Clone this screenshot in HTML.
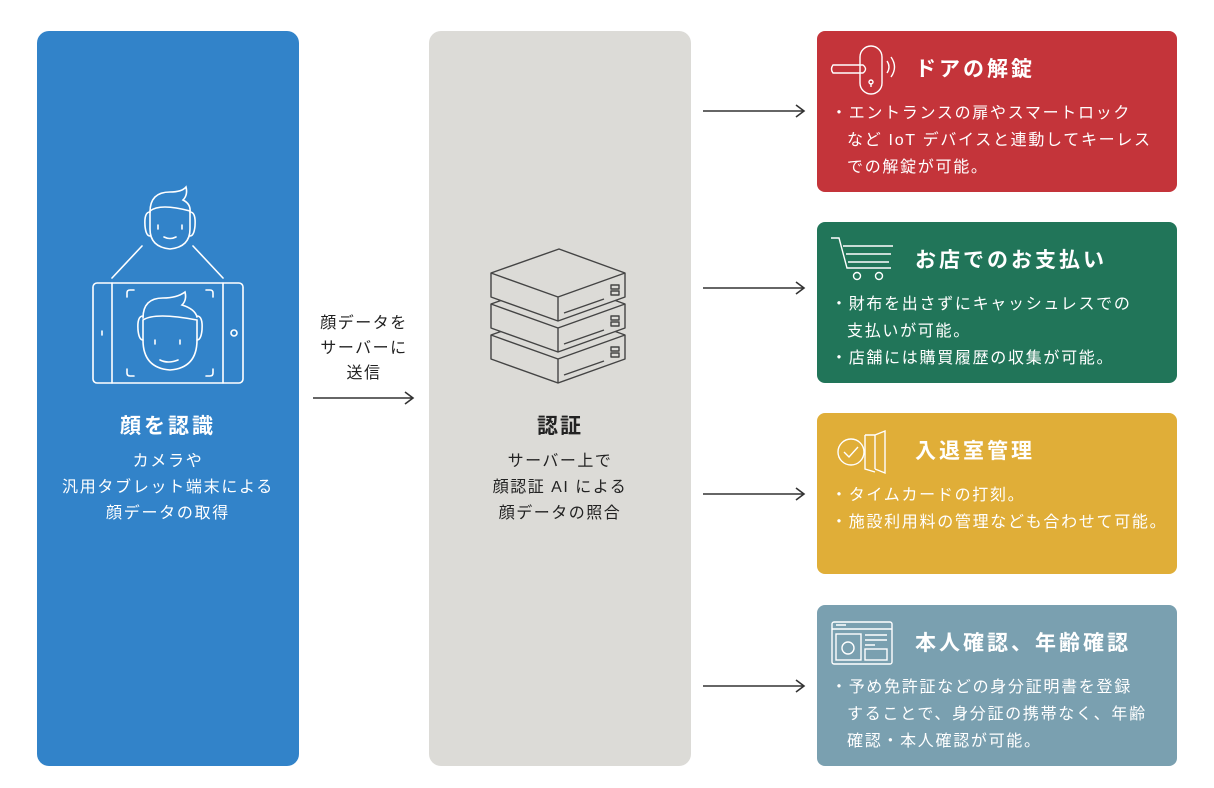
<!DOCTYPE html>
<html><head><meta charset="utf-8"><style>
body{margin:0;width:1214px;height:788px;background:#fff;position:relative;font-family:"Liberation Sans","Noto Sans CJK JP",sans-serif;overflow:hidden}
.p{position:absolute;border-radius:12px}
.t{position:absolute;text-align:center;color:#fff;white-space:nowrap}
.card{position:absolute;left:817px;width:360px;height:161px;border-radius:8px;color:#fff}
.card h3{position:absolute;left:98px;top:22px;margin:0;font-size:21px;font-weight:bold;letter-spacing:3px;white-space:nowrap}
.card .b{position:absolute;left:14px;top:69px;font-size:16px;line-height:27px;letter-spacing:1.7px;white-space:nowrap}
.card .b div{padding-left:16px;text-indent:-16px}
svg.ic{position:absolute;left:12px;top:10px}
</style></head><body>
<div class="p" style="left:37px;top:31px;width:262px;height:735px;background:#3283c9"></div>
<div class="p" style="left:429px;top:31px;width:262px;height:735px;background:#dcdbd7"></div>

<svg style="position:absolute;left:0;top:0" width="1214" height="788">
<g fill="none" stroke="#fff" stroke-width="1.6" stroke-linecap="round">
<path d="M150 212 q-6 0 -5 14 q1 10 5 10"/><path d="M190 212 q6 0 5 14 q-1 10 -5 10"/>
<path d="M150 212 q0 -20 20 -20 q12 0 16 -5 q2 8 -3 13 q8 4 7 12"/>
<path d="M150 211 q10 -8 40 0 v18 q0 18 -20 20 q-20 -2 -20 -20z"/>
<path d="M158 225v4M182 225v4M164 237q6 3 12 0"/>
<path d="M142 246L112 278M193 246L223 278"/>
<rect x="93" y="283" width="150" height="100" rx="4"/><path d="M112 283v100M223 283v100M102 331v4"/><circle cx="234" cy="333" r="3"/>
<path d="M127 297v-4q0-3 3-3h4M206 290h4q3 0 3 3v4M127 369v4q0 3 3 3h4M206 376h4q3 0 3-3v-4"/>
<path d="M143 316 q-6 0 -5 14 q1 10 5 10"/><path d="M197 316 q6 0 5 14 q-1 10 -5 10"/>
<path d="M143 318 q0 -20 20 -20 q14 0 22 -6 q2 8 -3 13 q13 4 15 12"/>
<path d="M143 320 q12 -8 54 0 v20 q0 28 -27 30 q-27 -2 -27 -30z"/>
<path d="M155 340v4M180 340v4M160 360q8 4 18 0"/>
</g>
<g fill="#dcdbd7" stroke="#444" stroke-width="1.4" stroke-linejoin="round">
<g id="s3" transform="translate(0,62)"><path d="M491 273 L559 249 L625 273 V297 L558 321 L491 297Z"/><path d="M491 273 L558 297 L625 273M558 297V321M564 313L604 299"/><rect x="611" y="285" width="8" height="4"/><rect x="611" y="291" width="8" height="4"/></g>
<g transform="translate(0,31)"><path d="M491 273 L559 249 L625 273 V297 L558 321 L491 297Z"/><path d="M491 273 L558 297 L625 273M558 297V321M564 313L604 299"/><rect x="611" y="285" width="8" height="4"/><rect x="611" y="291" width="8" height="4"/></g>
<g><path d="M491 273 L559 249 L625 273 V297 L558 321 L491 297Z"/><path d="M491 273 L558 297 L625 273M558 297V321M564 313L604 299"/><rect x="611" y="285" width="8" height="4"/><rect x="611" y="291" width="8" height="4"/></g>
</g>
<g stroke="#333" stroke-width="1.6" fill="none">
<path d="M313 398h100M405 392l8 6l-8 6"/>
<path d="M703 111h101M796 105l8 6l-8 6"/>
<path d="M703 288h101M796 282l8 6l-8 6"/>
<path d="M703 494h101M796 488l8 6l-8 6"/>
<path d="M703 686h101M796 680l8 6l-8 6"/>
</g>
</svg>

<div class="t" style="left:37px;width:262px;top:410px;font-size:21px;font-weight:bold;letter-spacing:3px">顔を認識</div>
<div class="t" style="left:37px;width:262px;top:449px;font-size:16px;line-height:26px;letter-spacing:1.7px">カメラや<br>汎用タブレット端末による<br>顔データの取得</div>
<div class="t" style="left:300px;width:128px;top:311px;font-size:16px;line-height:25px;letter-spacing:1.5px;color:#222">顔データを<br>サーバーに<br>送信</div>
<div class="t" style="left:429px;width:262px;top:410px;font-size:21px;font-weight:bold;letter-spacing:2px;color:#222">認証</div>
<div class="t" style="left:429px;width:262px;top:449px;font-size:16px;line-height:26px;letter-spacing:1.5px;color:#222">サーバー上で<br>顔認証 AI による<br>顔データの照合</div>

<div class="card" style="top:31px;background:#c4343a">
<svg class="ic" width="70" height="60" fill="none" stroke="#fff" stroke-width="1.4"><rect x="31" y="5" width="22" height="48" rx="11"/><path d="M4 24h30q5 4 0 8H4q-3-4 0-8z"/><path d="M58 20q4 6 0 12M62 16q7 10 0 20"/><circle cx="42" cy="41" r="2"/><path d="M42 42v4"/></svg>
<h3>ドアの解錠</h3>
<div class="b"><div>・エントランスの扉やスマートロック<br>など IoT デバイスと連動してキーレス<br>での解錠が可能。</div></div></div>

<div class="card" style="top:222px;background:#217559">
<svg class="ic" width="70" height="55" fill="none" stroke="#fff" stroke-width="1.4"><path d="M2 6h8l8 30h44M14 14h50M17 22h45M19 30h41"/><circle cx="28" cy="44" r="3.5"/><circle cx="50" cy="44" r="3.5"/></svg>
<h3>お店でのお支払い</h3>
<div class="b"><div>・財布を出さずにキャッシュレスでの<br>支払いが可能。</div><div>・店舗には購買履歴の収集が可能。</div></div></div>

<div class="card" style="top:413px;background:#e0ae38">
<svg class="ic" width="70" height="55" fill="none" stroke="#fff" stroke-width="1.4"><circle cx="22" cy="29" r="13"/><path d="M15 29l5 5l9-10M36 12h10v34M36 12v34l10 3M46 12l10-4v42l-10-4"/></svg>
<h3>入退室管理</h3>
<div class="b"><div>・タイムカードの打刻。</div><div>・施設利用料の管理なども合わせて可能。</div></div></div>

<div class="card" style="top:605px;background:#7aa0b0">
<svg class="ic" width="70" height="55" fill="none" stroke="#fff" stroke-width="1.4"><rect x="3" y="7" width="60" height="42" rx="2"/><path d="M3 14h60M7 10h10M36 20h22M36 25h22M36 30h10"/><rect x="7" y="19" width="25" height="26"/><rect x="36" y="34" width="22" height="11"/><circle cx="19" cy="33" r="6"/></svg>
<h3>本人確認、年齢確認</h3>
<div class="b"><div>・予め免許証などの身分証明書を登録<br>することで、身分証の携帯なく、年齢<br>確認・本人確認が可能。</div></div></div>
</body></html>
